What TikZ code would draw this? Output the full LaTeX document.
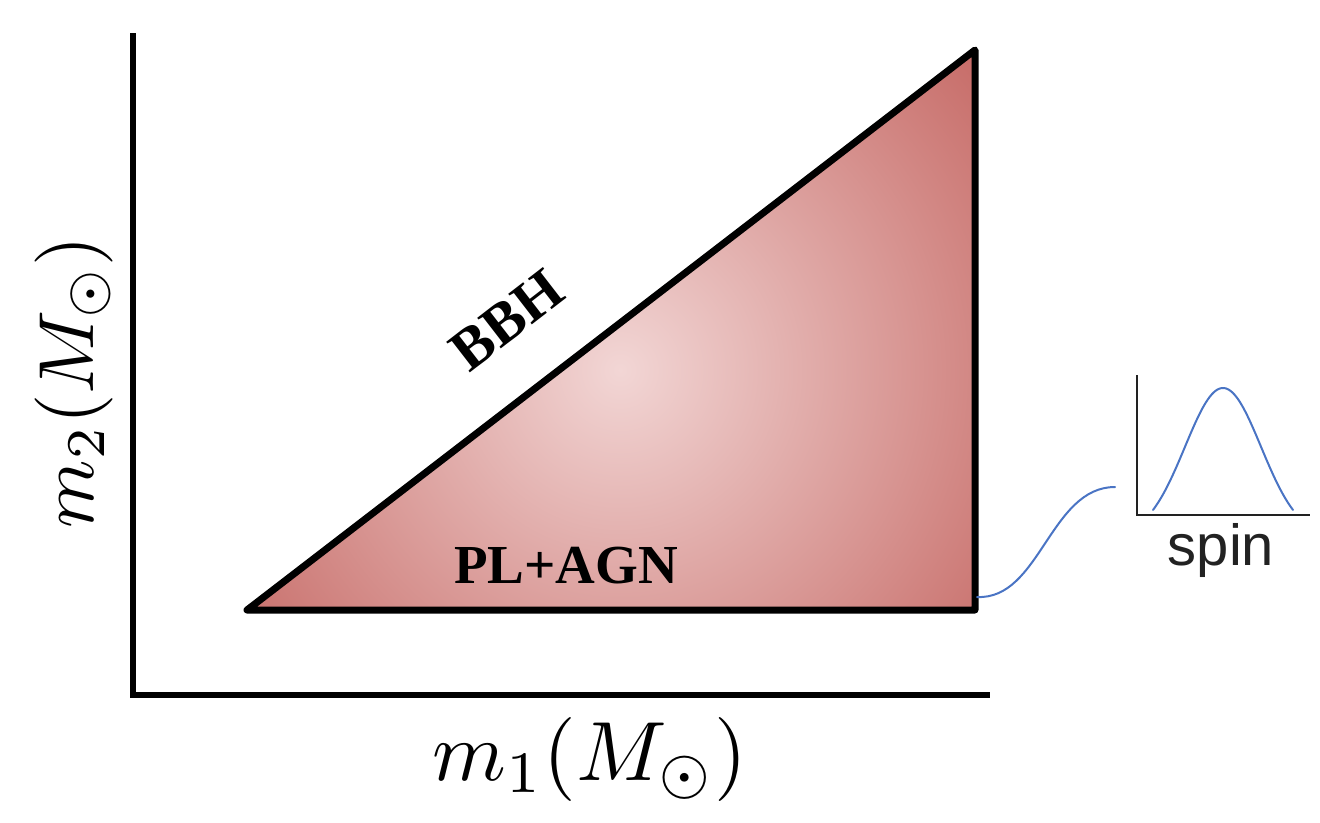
\documentclass[tikz,border=0pt]{standalone}
\usepackage{fontspec}
\setmainfont{Liberation Serif}
\newfontfamily\spinfont{Liberation Sans}
\definecolor{pinkL}{RGB}{242,214,213}
\definecolor{pinkD}{RGB}{198,106,102}
\definecolor{spinblue}{RGB}{74,116,196}
\definecolor{inkgray}{RGB}{34,34,34}
\begin{document}
\begin{tikzpicture}[x=1pt,y=-1pt,
  axisline/.style={line width=6pt, line cap=butt, line join=miter},
  triline/.style={line width=7pt, line join=round, line cap=round},
  boldlbl/.style={font=\fontsize{55}{60}\selectfont\bfseries, inner sep=0pt},
  insetaxis/.style={draw=inkgray, line width=2pt},
  spinline/.style={draw=spinblue, line width=2pt, line cap=round}]
\useasboundingbox (0,0) rectangle (1320,822);
% triangle corners
\coordinate (A) at (247,610);
\coordinate (B) at (975,50);
\coordinate (C) at (975,610);
% shaded triangle
\begin{scope}
  \clip (A) -- (B) -- (C) -- cycle;
  \shade[inner color=pinkL, outer color=pinkD] (620,370) circle (485pt);
\end{scope}
\draw[triline] (A) -- (B) -- (C) -- cycle;
% axes
\coordinate (ytop) at (133,33);
\coordinate (orig) at (133,695);
\coordinate (xend) at (990,695);
\draw[axisline] (ytop) -- (orig) -- (xend);
% labels
\node[boldlbl, font=\fontsize{59}{64}\selectfont\bfseries, rotate=37.7] (bbh) at (507,320) {BBH};
\node[boldlbl, anchor=base] (plagn) at (566,583) {PL+AGN};
\node[scale=8.4, anchor=base, inner sep=0pt] (xlabel) at (590,780) {$m_1(M_\odot)$};
\node[scale=7.8, rotate=90, anchor=base, inner sep=0pt] (ylabel) at (93,382) {$m_2(M_\odot)$};
% spin inset
\coordinate (itop) at (1137,375);
\coordinate (iorig) at (1137,515);
\coordinate (iend) at (1310,515);
\draw[insetaxis] (itop) -- (iorig) -- (iend);
\draw[spinline] plot[domain=-70:70, samples=80, smooth] ({1223+\x},{510-122*(exp(-(\x*\x)/2888)-0.183)/0.817});
\node[font=\spinfont\fontsize{58}{62}\selectfont, text=inkgray, anchor=base, inner sep=0pt] (spin) at (1221,565) {spin};
% connector
\coordinate (tipR) at (977,597);
\coordinate (insetin) at (1115,487);
\draw[spinline] (tipR) .. controls (1040,600) and (1050,487) .. (insetin);
\end{tikzpicture}
\end{document}
